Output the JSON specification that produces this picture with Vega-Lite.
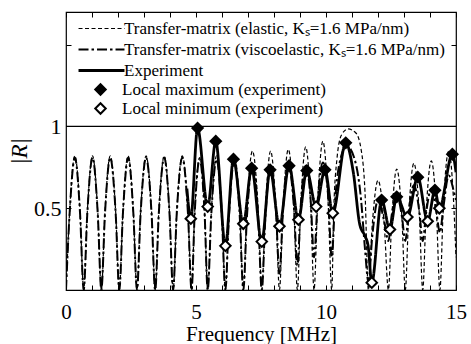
{
  "$schema": "https://vega.github.io/schema/vega-lite/v6.json",
  "width": 390,
  "height": 278,
  "autosize": "none",
  "padding": {"left": 66, "top": 12, "right": 15, "bottom": 54},
  "config": {
    "font": "Liberation Serif",
    "view": {"stroke": "black", "strokeWidth": 1.2},
    "style": {"guide-label": {"font": "Liberation Serif", "fontWeight": "normal"}, "guide-title": {"font": "Liberation Serif", "fontWeight": "normal"}},
    "axis": {"grid": false, "domain": false, "tickColor": "black", "labelColor": "black", "titleColor": "black", "labelFontWeight": "normal", "titleFontWeight": "normal", "labelFont": "Liberation Serif", "titleFont": "Liberation Serif"},
    "legend": {"symbolOpacity": 1, "labelColor": "black", "labelFont": "Liberation Serif", "labelLimit": 0}
  },
  "datasets": {
    "lines": [
      {"s":"el","f":0,"r":0},{"s":"el","f":0.14,"r":0.48},{"s":"el","f":0.34,"r":0.82},{"s":"el","f":0.54,"r":0.48},
      {"s":"el","f":0.68,"r":0},{"s":"el","f":0.82,"r":0.48},{"s":"el","f":1.02,"r":0.82},{"s":"el","f":1.22,"r":0.48},
      {"s":"el","f":1.36,"r":0},{"s":"el","f":1.5,"r":0.48},{"s":"el","f":1.7,"r":0.82},{"s":"el","f":1.91,"r":0.48},
      {"s":"el","f":2.05,"r":0},{"s":"el","f":2.19,"r":0.48},{"s":"el","f":2.39,"r":0.82},{"s":"el","f":2.59,"r":0.48},
      {"s":"el","f":2.73,"r":0},{"s":"el","f":2.87,"r":0.48},{"s":"el","f":3.08,"r":0.82},{"s":"el","f":3.29,"r":0.48},
      {"s":"el","f":3.43,"r":0},{"s":"el","f":3.57,"r":0.48},{"s":"el","f":3.78,"r":0.82},{"s":"el","f":3.98,"r":0.48},
      {"s":"el","f":4.12,"r":0},{"s":"el","f":4.26,"r":0.48},{"s":"el","f":4.47,"r":0.82},{"s":"el","f":4.69,"r":0.48},
      {"s":"el","f":4.83,"r":0},{"s":"el","f":4.95,"r":0.48},{"s":"el","f":5.14,"r":0.81},{"s":"el","f":5.33,"r":0.48},
      {"s":"el","f":5.45,"r":0},{"s":"el","f":5.59,"r":0.48},{"s":"el","f":5.79,"r":0.82},{"s":"el","f":5.99,"r":0.48},
      {"s":"el","f":6.13,"r":0},{"s":"el","f":6.27,"r":0.49},{"s":"el","f":6.47,"r":0.83},{"s":"el","f":6.68,"r":0.49},
      {"s":"el","f":6.82,"r":0},{"s":"el","f":6.96,"r":0.5},{"s":"el","f":7.17,"r":0.85},{"s":"el","f":7.39,"r":0.5},
      {"s":"el","f":7.53,"r":0},{"s":"el","f":7.67,"r":0.5},{"s":"el","f":7.87,"r":0.85},{"s":"el","f":8.07,"r":0.5},
      {"s":"el","f":8.21,"r":0},{"s":"el","f":8.35,"r":0.51},{"s":"el","f":8.55,"r":0.86},{"s":"el","f":8.76,"r":0.51},
      {"s":"el","f":8.9,"r":0},{"s":"el","f":9.03,"r":0.52},{"s":"el","f":9.22,"r":0.875},{"s":"el","f":9.41,"r":0.52},
      {"s":"el","f":9.54,"r":0},{"s":"el","f":9.68,"r":0.54},{"s":"el","f":9.88,"r":0.91},{"s":"el","f":10.08,"r":0.54},
      {"s":"el","f":10.22,"r":0},{"s":"el","f":10.3,"r":0.5},{"s":"el","f":10.42,"r":0.8},{"s":"el","f":10.6,"r":0.95},{"s":"el","f":10.85,"r":0.985},{"s":"el","f":11.15,"r":0.96},{"s":"el","f":11.35,"r":0.86},{"s":"el","f":11.5,"r":0.6},
      {"s":"el","f":11.63,"r":0},{"s":"el","f":11.78,"r":0.4},{"s":"el","f":12.0,"r":0.67},{"s":"el","f":12.24,"r":0.4},
      {"s":"el","f":12.4,"r":0},{"s":"el","f":12.53,"r":0.44},{"s":"el","f":12.72,"r":0.74},{"s":"el","f":12.92,"r":0.44},
      {"s":"el","f":13.05,"r":0},{"s":"el","f":13.18,"r":0.46},{"s":"el","f":13.38,"r":0.775},{"s":"el","f":13.59,"r":0.46},
      {"s":"el","f":13.72,"r":0},{"s":"el","f":13.85,"r":0.47},{"s":"el","f":14.05,"r":0.79},{"s":"el","f":14.25,"r":0.47},
      {"s":"el","f":14.38,"r":0},{"s":"el","f":14.51,"r":0.5},{"s":"el","f":14.72,"r":0.85},{"s":"el","f":14.92,"r":0.5},{"s":"el","f":15.0,"r":0.2},

      {"s":"ve","f":0,"r":0},{"s":"ve","f":0.14,"r":0.47},{"s":"ve","f":0.34,"r":0.81},{"s":"ve","f":0.54,"r":0.47},
      {"s":"ve","f":0.68,"r":0},{"s":"ve","f":0.82,"r":0.47},{"s":"ve","f":1.02,"r":0.81},{"s":"ve","f":1.22,"r":0.47},
      {"s":"ve","f":1.36,"r":0},{"s":"ve","f":1.5,"r":0.47},{"s":"ve","f":1.7,"r":0.81},{"s":"ve","f":1.91,"r":0.47},
      {"s":"ve","f":2.05,"r":0},{"s":"ve","f":2.19,"r":0.47},{"s":"ve","f":2.39,"r":0.81},{"s":"ve","f":2.59,"r":0.47},
      {"s":"ve","f":2.73,"r":0},{"s":"ve","f":2.87,"r":0.47},{"s":"ve","f":3.08,"r":0.81},{"s":"ve","f":3.29,"r":0.47},
      {"s":"ve","f":3.43,"r":0},{"s":"ve","f":3.57,"r":0.47},{"s":"ve","f":3.78,"r":0.81},{"s":"ve","f":3.98,"r":0.47},
      {"s":"ve","f":4.12,"r":0},{"s":"ve","f":4.26,"r":0.47},{"s":"ve","f":4.47,"r":0.81},{"s":"ve","f":4.69,"r":0.47},
      {"s":"ve","f":4.83,"r":0},{"s":"ve","f":4.95,"r":0.47},{"s":"ve","f":5.14,"r":0.8},{"s":"ve","f":5.33,"r":0.47},
      {"s":"ve","f":5.45,"r":0},{"s":"ve","f":5.59,"r":0.47},{"s":"ve","f":5.79,"r":0.8},{"s":"ve","f":5.99,"r":0.47},
      {"s":"ve","f":6.13,"r":0},{"s":"ve","f":6.27,"r":0.46},{"s":"ve","f":6.47,"r":0.79},{"s":"ve","f":6.68,"r":0.46},
      {"s":"ve","f":6.82,"r":0},{"s":"ve","f":6.96,"r":0.45},{"s":"ve","f":7.17,"r":0.77},{"s":"ve","f":7.39,"r":0.45},
      {"s":"ve","f":7.53,"r":0},{"s":"ve","f":7.67,"r":0.45},{"s":"ve","f":7.87,"r":0.76},{"s":"ve","f":8.07,"r":0.5},
      {"s":"ve","f":8.21,"r":0.1},{"s":"ve","f":8.35,"r":0.5},{"s":"ve","f":8.55,"r":0.77},{"s":"ve","f":8.76,"r":0.52},
      {"s":"ve","f":8.9,"r":0.15},{"s":"ve","f":9.03,"r":0.52},{"s":"ve","f":9.22,"r":0.76},{"s":"ve","f":9.41,"r":0.55},
      {"s":"ve","f":9.54,"r":0.2},{"s":"ve","f":9.68,"r":0.55},{"s":"ve","f":9.88,"r":0.78},{"s":"ve","f":10.08,"r":0.58},
      {"s":"ve","f":10.22,"r":0.2},{"s":"ve","f":10.35,"r":0.55},{"s":"ve","f":10.5,"r":0.76},{"s":"ve","f":10.8,"r":0.88},{"s":"ve","f":11.1,"r":0.8},{"s":"ve","f":11.35,"r":0.55},{"s":"ve","f":11.5,"r":0.25},
      {"s":"ve","f":11.63,"r":0.05},{"s":"ve","f":11.78,"r":0.33},{"s":"ve","f":12.0,"r":0.55},{"s":"ve","f":12.24,"r":0.42},
      {"s":"ve","f":12.4,"r":0.3},{"s":"ve","f":12.53,"r":0.46},{"s":"ve","f":12.72,"r":0.58},{"s":"ve","f":12.92,"r":0.45},
      {"s":"ve","f":13.05,"r":0.3},{"s":"ve","f":13.18,"r":0.48},{"s":"ve","f":13.38,"r":0.64},{"s":"ve","f":13.59,"r":0.48},
      {"s":"ve","f":13.72,"r":0.3},{"s":"ve","f":13.85,"r":0.47},{"s":"ve","f":14.05,"r":0.62},{"s":"ve","f":14.25,"r":0.47},
      {"s":"ve","f":14.38,"r":0.35},{"s":"ve","f":14.51,"r":0.5},{"s":"ve","f":14.72,"r":0.7},{"s":"ve","f":14.92,"r":0.6},{"s":"ve","f":15.0,"r":0.55},

      {"s":"ex","f":4.65,"r":0.62},{"s":"ex","f":4.8,"r":0.436},{"s":"ex","f":5.06,"r":0.99},{"s":"ex","f":5.45,"r":0.51},
      {"s":"ex","f":5.76,"r":0.91},{"s":"ex","f":6.13,"r":0.27},{"s":"ex","f":6.44,"r":0.8},{"s":"ex","f":6.82,"r":0.405},
      {"s":"ex","f":7.14,"r":0.745},{"s":"ex","f":7.53,"r":0.296},{"s":"ex","f":7.85,"r":0.735},{"s":"ex","f":8.21,"r":0.39},
      {"s":"ex","f":8.58,"r":0.76},{"s":"ex","f":8.94,"r":0.43},{"s":"ex","f":9.26,"r":0.73},{"s":"ex","f":9.62,"r":0.51},
      {"s":"ex","f":9.96,"r":0.735},{"s":"ex","f":10.26,"r":0.47},{"s":"ex","f":10.76,"r":0.9},{"s":"ex","f":11.05,"r":0.72},
      {"s":"ex","f":11.3,"r":0.4},{"s":"ex","f":11.5,"r":0.33},{"s":"ex","f":11.62,"r":0.27},{"s":"ex","f":11.76,"r":0.045},
      {"s":"ex","f":12.14,"r":0.55},{"s":"ex","f":12.46,"r":0.37},{"s":"ex","f":12.72,"r":0.57},{"s":"ex","f":13.13,"r":0.446},
      {"s":"ex","f":13.53,"r":0.69},{"s":"ex","f":13.91,"r":0.42},{"s":"ex","f":14.19,"r":0.61},{"s":"ex","f":14.36,"r":0.5},
      {"s":"ex","f":14.86,"r":0.83},{"s":"ex","f":15.0,"r":0.72}
    ],
    "marks": [
      {"t":"max","f":5.06,"r":0.99},{"t":"max","f":5.76,"r":0.91},{"t":"max","f":6.44,"r":0.8},{"t":"max","f":7.14,"r":0.745},
      {"t":"max","f":7.85,"r":0.735},{"t":"max","f":8.58,"r":0.76},{"t":"max","f":9.26,"r":0.73},{"t":"max","f":9.96,"r":0.735},
      {"t":"max","f":10.76,"r":0.9},{"t":"max","f":12.14,"r":0.55},{"t":"max","f":12.72,"r":0.57},{"t":"max","f":13.53,"r":0.69},
      {"t":"max","f":14.19,"r":0.61},{"t":"max","f":14.86,"r":0.83},
      {"t":"min","f":4.8,"r":0.436},{"t":"min","f":5.45,"r":0.51},{"t":"min","f":6.13,"r":0.27},{"t":"min","f":6.82,"r":0.405},
      {"t":"min","f":7.53,"r":0.296},{"t":"min","f":8.21,"r":0.39},{"t":"min","f":8.94,"r":0.43},{"t":"min","f":9.62,"r":0.51},
      {"t":"min","f":10.26,"r":0.47},{"t":"min","f":11.76,"r":0.045},{"t":"min","f":12.46,"r":0.37},{"t":"min","f":13.13,"r":0.446},
      {"t":"min","f":13.91,"r":0.42},{"t":"min","f":14.36,"r":0.5}
    ]
  },
  "layer": [
    {
      "data": {"name": "lines"},
      "transform": [{"filter": "datum.s == 'el'"}],
      "mark": {"type": "line", "interpolate": "monotone", "color": "black", "clip": true},
      "encoding": {
        "x": {"field": "f", "type": "quantitative", "scale": {"domain": [0, 15], "nice": false, "zero": false},
          "axis": {"orient": "bottom", "values": [0,1,2,3,4,5,6,7,8,9,10,11,12,13,14,15], "labelExpr": "datum.value % 5 === 0 ? datum.label : ''", "labelOverlap": false, "labelFlush": false, "tickSize": -5, "labelPadding": 16, "labelFontSize": 21, "labelFont": "Liberation Serif", "title": "Frequency [MHz]", "titleFont": "Liberation Serif", "titleFontSize": 21, "titlePadding": 1}},
        "y": {"field": "r", "type": "quantitative", "scale": {"domain": [0, 1.7], "nice": false},
          "axis": {"orient": "left", "values": [0.5, 1, 1.5], "labelExpr": "datum.value == 1 ? '1' : (datum.value == 0.5 ? '0.5' : '')", "tickSize": -5, "labelPadding": 10, "labelFontSize": 22, "labelFont": "Liberation Serif", "title": "|R|", "titleFont": "Liberation Serif", "titleFontStyle": "italic", "titleFontSize": 23, "titlePadding": 2}},
        "strokeDash": {"field": "s", "type": "nominal", "scale": {"domain": ["el", "ve", "ex"], "range": [[4, 2.5], [10, 3, 2.5, 3], [1, 0]]},
          "legend": {"orient": "none", "legendX": 27, "legendY": 8, "title": null, "symbolType": "M-4,0H4", "symbolSize": 132, "symbolStrokeColor": "black", "labelFontSize": 17, "labelOffset": 14, "padding": 0, "rowPadding": 3, "labelLimit": 0, "labelExpr": "datum.value == 'el' ? 'Transfer-matrix (elastic, Kₛ=1.6 MPa/nm)' : (datum.value == 've' ? 'Transfer-matrix (viscoelastic, Kₛ=1.6 MPa/nm)' : 'Experiment')"}},
        "strokeWidth": {"field": "s", "type": "nominal", "scale": {"domain": ["el", "ve", "ex"], "range": [1.2, 2.8, 2.8]},
          "legend": {"orient": "none", "legendX": 27, "legendY": 8, "title": null, "symbolType": "M-4,0H4", "symbolSize": 132, "symbolStrokeColor": "black", "labelFontSize": 17, "labelOffset": 14, "padding": 0, "rowPadding": 3, "labelLimit": 0, "labelExpr": "datum.value == 'el' ? 'Transfer-matrix (elastic, Kₛ=1.6 MPa/nm)' : (datum.value == 've' ? 'Transfer-matrix (viscoelastic, Kₛ=1.6 MPa/nm)' : 'Experiment')"}}
      }
    },
    {
      "data": {"name": "lines"},
      "transform": [{"filter": "datum.s == 've'"}],
      "mark": {"type": "line", "interpolate": "monotone", "color": "black", "clip": true},
      "encoding": {
        "x": {"field": "f", "type": "quantitative", "axis": null},
        "y": {"field": "r", "type": "quantitative", "axis": null},
        "strokeDash": {"field": "s", "type": "nominal"},
        "strokeWidth": {"field": "s", "type": "nominal"}
      }
    },
    {
      "data": {"name": "lines"},
      "transform": [{"filter": "datum.s == 'ex'"}],
      "mark": {"type": "line", "interpolate": "monotone", "color": "black", "clip": true},
      "encoding": {
        "x": {"field": "f", "type": "quantitative", "axis": null},
        "y": {"field": "r", "type": "quantitative", "axis": null},
        "strokeDash": {"field": "s", "type": "nominal"},
        "strokeWidth": {"field": "s", "type": "nominal"}
      }
    },
    {
      "data": {"values": [{}]},
      "mark": {"type": "rule", "color": "black", "strokeWidth": 1.2},
      "encoding": {"y": {"datum": 1, "type": "quantitative", "axis": null}}
    },
    {
      "data": {"name": "marks"},
      "mark": {"type": "point", "shape": "diamond", "size": 110, "filled": true, "stroke": "black", "strokeWidth": 2, "opacity": 1},
      "encoding": {
        "x": {"field": "f", "type": "quantitative",
          "axis": {"orient": "top", "values": [0,1,2,3,4,5,6,7,8,9,10,11,12,13,14,15], "labels": false, "tickSize": -5, "title": null}},
        "y": {"field": "r", "type": "quantitative",
          "axis": {"orient": "right", "values": [0.5, 1, 1.5], "labels": false, "tickSize": -5, "title": null}},
        "fill": {"field": "t", "type": "nominal", "scale": {"domain": ["max", "min"], "range": ["black", "white"]},
          "legend": {"orient": "none", "legendX": 26, "legendY": 69, "title": null, "symbolType": "diamond", "symbolSize": 110, "symbolStrokeColor": "black", "symbolStrokeWidth": 2, "labelOffset": 13, "labelFontSize": 17, "padding": 0, "rowPadding": 0, "labelLimit": 0, "labelExpr": "datum.value == 'max' ? 'Local maximum (experiment)' : 'Local minimum (experiment)'"}}
      }
    }
  ],
  "resolve": {"axis": {"x": "independent", "y": "independent"}}
}
